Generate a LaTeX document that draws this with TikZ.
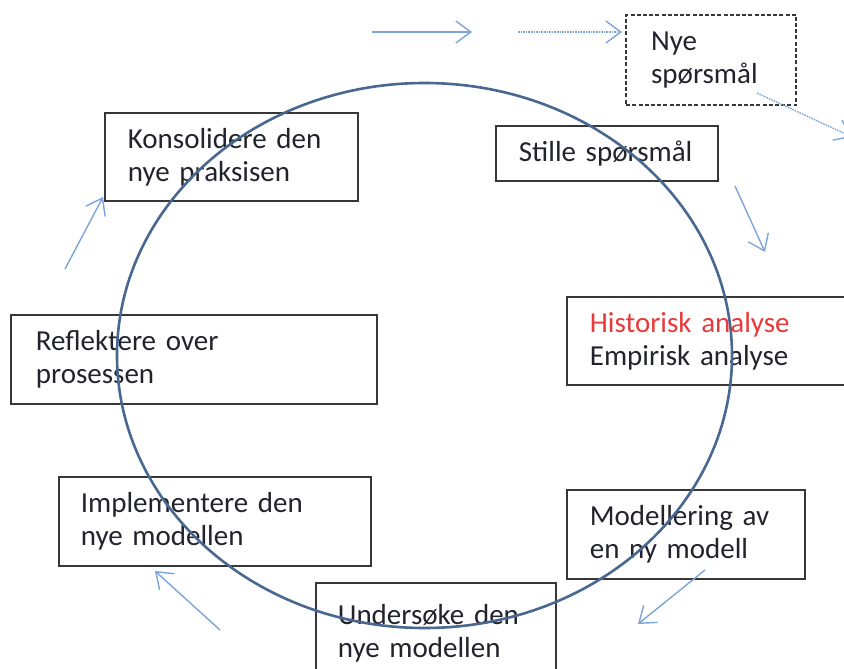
\documentclass[tikz,border=0pt]{standalone}
\usepackage{fontspec}
\setmainfont{Carlito}
\usetikzlibrary{arrows.meta}
\definecolor{ringblue}{RGB}{72,104,145}
\definecolor{arrblue}{RGB}{125,165,215}
\definecolor{boxgray}{RGB}{55,55,55}
\definecolor{txt}{RGB}{35,35,45}
\definecolor{redtxt}{RGB}{232,58,58}
\tikzset{
  stagebox/.style={draw=boxgray, line width=1.8pt, rectangle, anchor=north west,
    inner xsep=23pt, inner ysep=0pt, align=left, text=txt,
    font=\fontsize{29}{33}\selectfont},
  flow/.style={draw=arrblue, line width=1.4pt, -{Straight Barb[length=15pt,width=22pt,line width=1.4pt]}},
  dotflow/.style={flow, dash pattern=on 1.6pt off 1pt},
}
\begin{document}
\begin{tikzpicture}[x=1pt,y=-1pt]
\useasboundingbox (0,0) rectangle (844,669);
\clip (0,0) rectangle (844,669);
\fill[white] (0,0) rectangle (844,669);

\node[stagebox, minimum width=253pt, minimum height=88pt, text width=207pt] (kons) at (104,112) {Konsolidere den\\nye praksisen};
\node[stagebox, minimum width=222pt, minimum height=55pt, text width=176pt] (stille) at (495,125) {Stille spørsmål};
\node[stagebox, line width=2.2pt, dash pattern=on 4pt off 2.2pt, minimum width=169pt, minimum height=90pt, text width=120pt, inner xsep=25pt] (nye) at (625,14) {Nye\\spørsmål};
\node[stagebox, minimum width=290pt, minimum height=88pt, text width=244pt] (hist) at (566,296) {\textcolor{redtxt}{Historisk analyse}\\Empirisk analyse};
\node[stagebox, minimum width=366pt, minimum height=89pt, text width=316pt, inner xsep=25pt] (refl) at (10,314) {Reflektere over\\prosessen};
\node[stagebox, minimum width=312pt, minimum height=89pt, text width=268pt, inner xsep=22pt] (impl) at (58,476) {Implementere den\\nye modellen};
\node[stagebox, minimum width=238pt, minimum height=89pt, text width=192pt] (mod) at (566,489) {Modellering av\\en ny modell};
\node[stagebox, minimum width=240pt, minimum height=100pt, text width=196pt, inner xsep=22pt] (und) at (315,582) {Undersøke den\\nye modellen};

% ring
\draw[ringblue, line width=2.6pt] (424.5,355.5) ellipse [x radius=307.5, y radius=272.5];

% arrows
\coordinate (a1s) at (372,32);
\coordinate (a1e) at (472,32);
\draw[flow] (a1s) -- (a1e);
\coordinate (a2s) at (518,32);
\coordinate (a2e) at (622,32);
\draw[dotflow] (a2s) -- (a2e);
\coordinate (a3s) at (757,93);
\coordinate (a3e) at (852,137);
\draw[dotflow] (a3s) -- (a3e);
\coordinate (a4s) at (735,186);
\coordinate (a4e) at (765,252);
\draw[flow] (a4s) -- (a4e);
\coordinate (a5s) at (705,570);
\coordinate (a5e) at (638,624);
\draw[flow] (a5s) -- (a5e);
\coordinate (a6s) at (220,630);
\coordinate (a6e) at (155,571);
\draw[flow] (a6s) -- (a6e);
\coordinate (a7s) at (65,269);
\coordinate (a7e) at (103,197);
\draw[flow] (a7s) -- (a7e);
\end{tikzpicture}
\end{document}
